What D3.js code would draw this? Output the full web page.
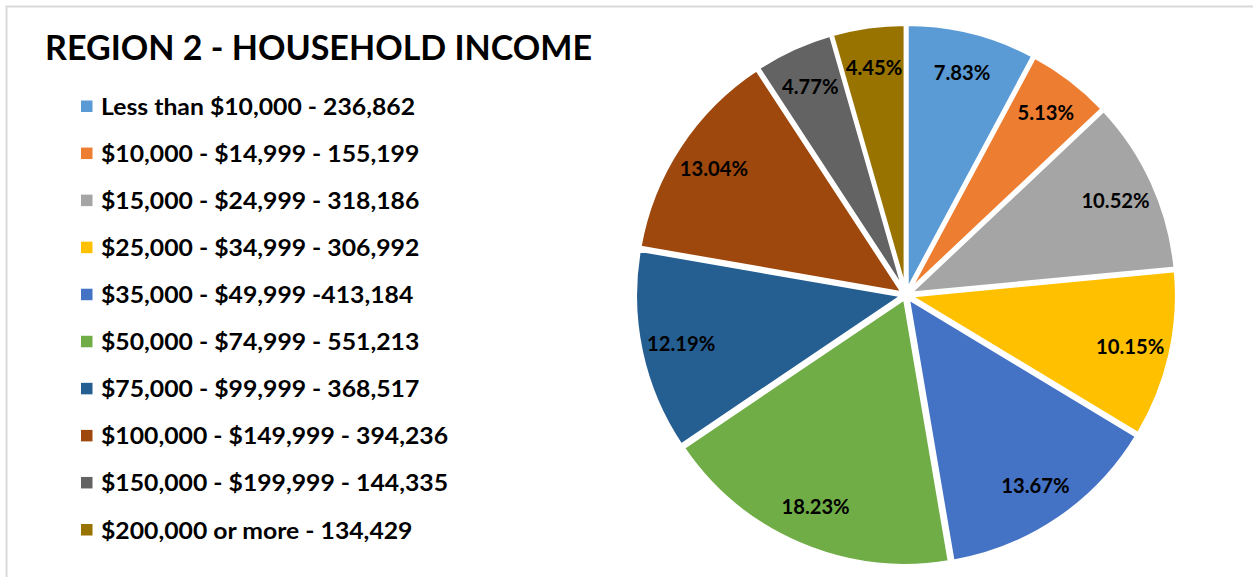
<!DOCTYPE html>
<html>
<head>
<meta charset="utf-8">
<script src="https://cdn.jsdelivr.net/npm/d3@7"></script>
<style>
  body { margin: 0; background: #fff; }
  svg text { font-family: Lato, "Open Sans", sans-serif; font-weight: bold; }
</style>
</head>
<body>
<div id="chart"></div>
<script>
const title = "REGION 2 - HOUSEHOLD INCOME";
const categories = [
  "Less than $10,000", "$10,000 - $14,999", "$15,000 - $24,999", "$25,000 - $34,999",
  "$35,000 - $49,999", "$50,000 - $74,999", "$75,000 - $99,999", "$100,000 - $149,999",
  "$150,000 - $199,999", "$200,000 or more"
];
const households = [236862, 155199, 318186, 306992, 413184, 551213, 368517, 394236, 144335, 134429];
// legend text as printed in the source (one row has no space before the count)
const legendLabels = [
  "Less than $10,000 - 236,862", "$10,000 - $14,999 - 155,199", "$15,000 - $24,999 - 318,186",
  "$25,000 - $34,999 - 306,992", "$35,000 - $49,999 -413,184", "$50,000 - $74,999 - 551,213",
  "$75,000 - $99,999 - 368,517", "$100,000 - $149,999 - 394,236", "$150,000 - $199,999 - 144,335",
  "$200,000 or more - 134,429"
];
const colors = ["#5B9BD5", "#ED7D31", "#A5A5A5", "#FFC000", "#4472C4",
                "#70AD47", "#255E91", "#9E480E", "#636363", "#997300"];

const width = 1253, height = 577;
const svg = d3.select("#chart").append("svg")
    .attr("width", width)
    .attr("height", height);

// chart frame (only top and left edges are visible)
svg.append("line").attr("x1", 6).attr("y1", 6.5).attr("x2", width).attr("y2", 6.5)
    .attr("stroke", "#d9d9d9").attr("stroke-width", 2);
svg.append("line").attr("x1", 6.5).attr("y1", 6).attr("x2", 6.5).attr("y2", height)
    .attr("stroke", "#d9d9d9").attr("stroke-width", 2);

// title: Calibri-like proportions -> taller font squeezed to the reference width
svg.append("text")
    .attr("x", 45).attr("y", 60)
    .attr("font-size", 34)
    .attr("fill", "#000")
    .attr("textLength", 547)
    .attr("lengthAdjust", "spacingAndGlyphs")
    .text(title);

// legend
const color = d3.scaleOrdinal().domain(categories).range(colors);
const rowY = d3.scalePoint().domain(categories).range([106.5, 530]);

const legend = svg.append("g").selectAll("g")
    .data(categories)
    .join("g")
    .attr("transform", d => `translate(0,${rowY(d)})`);

legend.append("rect")
    .attr("x", 81).attr("y", -6)
    .attr("width", 11.5).attr("height", 11.5)
    .attr("fill", d => color(d));

const legendText = legend.append("text")
    .attr("x", 101).attr("y", 8.5)
    .attr("font-size", 23.5)
    .attr("fill", "#000")
    .text((d, i) => legendLabels[i]);

// squeeze every row by the same factor so the longest row matches the reference width
const lens = legendText.nodes().map(n => n.getComputedTextLength());
const squeeze = 347 / d3.max(lens);
legendText
    .attr("textLength", (d, i) => lens[i] * squeeze)
    .attr("lengthAdjust", "spacingAndGlyphs");

// pie
const cx = 906, cy = 295, r = 268, explode = 3;
const total = d3.sum(households);
const pie = d3.pie().sort(null).value(d => d);
const arcs = pie(households);
const arc = d3.arc().innerRadius(0).outerRadius(r);
const labelArc = d3.arc().innerRadius(230).outerRadius(230);

const g = svg.append("g").attr("transform", `translate(${cx},${cy})`);

g.selectAll("path")
    .data(arcs)
    .join("path")
    .attr("transform", d => {
      const a = (d.startAngle + d.endAngle) / 2;
      return `translate(${explode * Math.sin(a)},${-explode * Math.cos(a)})`;
    })
    .attr("d", arc)
    .attr("fill", (d, i) => colors[i])
    .attr("stroke", "#fff")
    .attr("stroke-width", 4)
    .attr("stroke-linejoin", "round");

const pct = g.selectAll("text.pct")
    .data(arcs)
    .join("text")
    .attr("class", "pct")
    .attr("transform", d => `translate(${labelArc.centroid(d)})`)
    .attr("text-anchor", "middle")
    .attr("dy", "0.36em")
    .attr("font-size", 21.5)
    .attr("fill", "#000")
    .text(d => (d.value / total * 100).toFixed(2) + "%");

// labels are a little condensed in the source font
pct.attr("textLength", function () { return this.getComputedTextLength() * 0.94; })
    .attr("lengthAdjust", "spacingAndGlyphs");
</script>
</body>
</html>
